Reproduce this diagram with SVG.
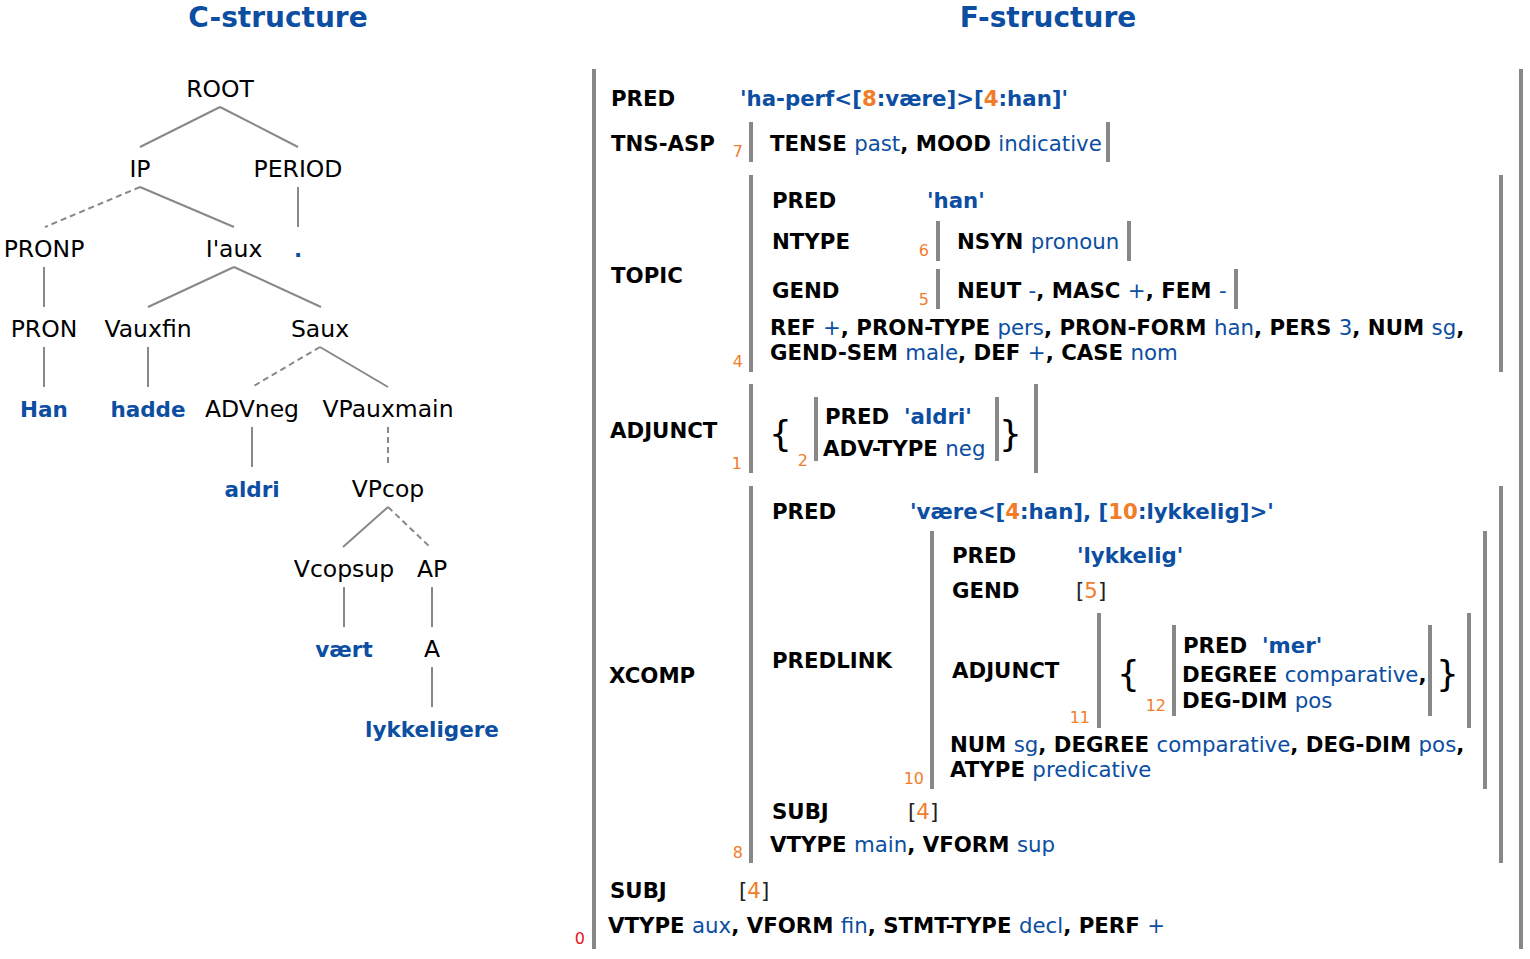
<svg xmlns="http://www.w3.org/2000/svg" width="1530" height="959" viewBox="0 0 1530 959">
<style>
text { font-family: "DejaVu Sans", Verdana, sans-serif; }
.title { font-size: 28px; font-weight: bold; fill: #0b4ea2; text-anchor: middle; }
.nt { font-size: 23.5px; fill: #000; text-anchor: middle; }
.lf { font-size: 21.5px; font-weight: bold; fill: #0b4ea2; text-anchor: middle; }
.f { font-size: 21.3px; font-weight: bold; fill: #000; }
.v { font-weight: normal; fill: #0b4ea2; }
.vb { fill: #0b4ea2; }
.br { font-weight: normal; fill: #222; }
.o { fill: #f07d2a; }
.no { font-weight: normal; fill: #f07d2a; }
.idx { font-size: 16px; fill: #f07d2a; text-anchor: end; }
.red { fill: #e8141b; }
.brace { font-size: 36px; font-weight: normal; fill: #000; }
.bar { stroke: #888; stroke-width: 4; }
.edge { stroke: #888; stroke-width: 2; fill: none; }
.dash { stroke-dasharray: 6 4; }
</style>

<text class="title" x="278" y="27">C-structure</text>
<text class="title" x="1048" y="27">F-structure</text>

<!-- C-structure connectors -->
<g id="tree-edges">
  <line class="edge" x1="220" y1="107" x2="140" y2="147"/>
  <line class="edge" x1="220" y1="107" x2="298" y2="147"/>
  <line class="edge dash" x1="140" y1="187" x2="45" y2="227"/>
  <line class="edge" x1="140" y1="187" x2="234" y2="227"/>
  <line class="edge" x1="298" y1="187" x2="298" y2="227"/>
  <line class="edge" x1="44" y1="267" x2="44" y2="307"/>
  <line class="edge" x1="234" y1="267" x2="148" y2="307"/>
  <line class="edge" x1="234" y1="267" x2="321" y2="307"/>
  <line class="edge" x1="44" y1="347" x2="44" y2="387"/>
  <line class="edge" x1="148" y1="347" x2="148" y2="387"/>
  <line class="edge dash" x1="320" y1="347" x2="252" y2="387"/>
  <line class="edge" x1="320" y1="347" x2="388" y2="387"/>
  <line class="edge" x1="252" y1="427" x2="252" y2="467"/>
  <line class="edge dash" x1="388" y1="427" x2="388" y2="467"/>
  <line class="edge" x1="388" y1="507" x2="343" y2="547"/>
  <line class="edge dash" x1="388" y1="507" x2="430" y2="547"/>
  <line class="edge" x1="344" y1="587" x2="344" y2="627"/>
  <line class="edge" x1="432" y1="587" x2="432" y2="627"/>
  <line class="edge" x1="432" y1="667" x2="432" y2="707"/>
</g>

<!-- C-structure nodes -->
<g id="n-root"><text class="nt" x="220" y="97">ROOT</text></g>
<g id="n-ip"><text class="nt" x="140" y="177">IP</text></g>
<g id="n-period"><text class="nt" x="298" y="177">PERIOD</text></g>
<g id="n-pronp"><text class="nt" x="44" y="257">PRONP</text></g>
<g id="n-iaux"><text class="nt" x="234" y="257">I'aux</text></g>
<g id="n-dot"><text class="lf" x="298" y="257">.</text></g>
<g id="n-pron"><text class="nt" x="44" y="337">PRON</text></g>
<g id="n-vauxfin"><text class="nt" x="148" y="337">Vauxfin</text></g>
<g id="n-saux"><text class="nt" x="320" y="337">Saux</text></g>
<g id="n-han"><text class="lf" x="44" y="417">Han</text></g>
<g id="n-hadde"><text class="lf" x="148" y="417">hadde</text></g>
<g id="n-advneg"><text class="nt" x="252" y="417">ADVneg</text></g>
<g id="n-vpauxmain"><text class="nt" x="388" y="417">VPauxmain</text></g>
<g id="n-aldri"><text class="lf" x="252" y="497">aldri</text></g>
<g id="n-vpcop"><text class="nt" x="388" y="497">VPcop</text></g>
<g id="n-vcopsup"><text class="nt" x="344" y="577">Vcopsup</text></g>
<g id="n-ap"><text class="nt" x="432" y="577">AP</text></g>
<g id="n-vaert"><text class="lf" x="344" y="657">vært</text></g>
<g id="n-a"><text class="nt" x="432" y="657">A</text></g>
<g id="n-lykkeligere"><text class="lf" x="432" y="737">lykkeligere</text></g>

<!-- F-structure -->
<g id="fs0">
  <line class="bar" x1="594" y1="69" x2="594" y2="949"/>
  <line class="bar" x1="1521" y1="69" x2="1521" y2="949"/>
  <text class="idx red" x="585" y="944">0</text>
  <text class="f" x="611" y="106">PRED</text>
  <text class="f vb" x="740" y="106">'ha-perf&lt;[<tspan class="o">8</tspan>:være]&gt;[<tspan class="o">4</tspan>:han]'</text>
  <text class="f" x="611" y="151">TNS-ASP</text>
  <text class="f" x="611" y="283">TOPIC</text>
  <text class="f" x="610" y="438">ADJUNCT</text>
  <text class="f" x="609" y="683">XCOMP</text>
  <text class="f" x="610" y="898">SUBJ</text>
  <text class="f" x="739" y="898"><tspan class="br">[</tspan><tspan class="no">4</tspan><tspan class="br">]</tspan></text>
  <text class="f" x="608" y="933">VTYPE <tspan class="v">aux</tspan>, VFORM <tspan class="v">fin</tspan>, STMT-TYPE <tspan class="v">decl</tspan>, PERF <tspan class="v">+</tspan></text>
</g>

<g id="fs7">
  <line class="bar" x1="751" y1="122" x2="751" y2="162"/>
  <line class="bar" x1="1108" y1="122" x2="1108" y2="162"/>
  <text class="idx" x="743" y="157">7</text>
  <text class="f" x="770" y="151">TENSE <tspan class="v">past</tspan>, MOOD <tspan class="v">indicative</tspan></text>
</g>

<g id="fs4">
  <line class="bar" x1="751" y1="175" x2="751" y2="372"/>
  <line class="bar" x1="1501" y1="175" x2="1501" y2="372"/>
  <text class="idx" x="743" y="367">4</text>
  <text class="f" x="772" y="208">PRED</text>
  <text class="f vb" x="927" y="208">'han'</text>
  <text class="f" x="772" y="249">NTYPE</text>
  <text class="f" x="772" y="298">GEND</text>
  <text class="f" x="770" y="335">REF <tspan class="v">+</tspan>, PRON-TYPE <tspan class="v">pers</tspan>, PRON-FORM <tspan class="v">han</tspan>, PERS <tspan class="v">3</tspan>, NUM <tspan class="v">sg</tspan>,</text>
  <text class="f" x="770" y="360">GEND-SEM <tspan class="v">male</tspan>, DEF <tspan class="v">+</tspan>, CASE <tspan class="v">nom</tspan></text>
</g>

<g id="fs6">
  <line class="bar" x1="938" y1="221" x2="938" y2="261"/>
  <line class="bar" x1="1129" y1="221" x2="1129" y2="261"/>
  <text class="idx" x="929" y="256">6</text>
  <text class="f" x="957" y="249">NSYN <tspan class="v">pronoun</tspan></text>
</g>

<g id="fs5">
  <line class="bar" x1="938" y1="269" x2="938" y2="309"/>
  <line class="bar" x1="1236" y1="269" x2="1236" y2="309"/>
  <text class="idx" x="929" y="305">5</text>
  <text class="f" x="957" y="298">NEUT <tspan class="v">-</tspan>, MASC <tspan class="v">+</tspan>, FEM <tspan class="v">-</tspan></text>
</g>

<g id="fs1">
  <line class="bar" x1="751" y1="384" x2="751" y2="473"/>
  <line class="bar" x1="1036" y1="384" x2="1036" y2="473"/>
  <text class="idx" x="742" y="469">1</text>
  <text class="brace" x="769" y="446">{</text>
  <text class="brace" x="999" y="446">}</text>
</g>

<g id="fs2">
  <line class="bar" x1="816" y1="397" x2="816" y2="461"/>
  <line class="bar" x1="997" y1="397" x2="997" y2="461"/>
  <text class="idx" x="808" y="466">2</text>
  <text class="f" x="825" y="424">PRED</text>
  <text class="f vb" x="904" y="424">'aldri'</text>
  <text class="f" x="823" y="456">ADV-TYPE <tspan class="v">neg</tspan></text>
</g>

<g id="fs8">
  <line class="bar" x1="751" y1="486" x2="751" y2="863"/>
  <line class="bar" x1="1501" y1="486" x2="1501" y2="863"/>
  <text class="idx" x="743" y="858">8</text>
  <text class="f" x="772" y="519">PRED</text>
  <text class="f vb" x="910" y="519">'være&lt;[<tspan class="o">4</tspan>:han], [<tspan class="o">10</tspan>:lykkelig]&gt;'</text>
  <text class="f" x="772" y="668">PREDLINK</text>
  <text class="f" x="772" y="819">SUBJ</text>
  <text class="f" x="908" y="819"><tspan class="br">[</tspan><tspan class="no">4</tspan><tspan class="br">]</tspan></text>
  <text class="f" x="770" y="852">VTYPE <tspan class="v">main</tspan>, VFORM <tspan class="v">sup</tspan></text>
</g>

<g id="fs10">
  <line class="bar" x1="932" y1="531" x2="932" y2="789"/>
  <line class="bar" x1="1485" y1="531" x2="1485" y2="789"/>
  <text class="idx" x="924" y="784">10</text>
  <text class="f" x="952" y="563">PRED</text>
  <text class="f vb" x="1077" y="563">'lykkelig'</text>
  <text class="f" x="952" y="598">GEND</text>
  <text class="f" x="1076" y="598"><tspan class="br">[</tspan><tspan class="no">5</tspan><tspan class="br">]</tspan></text>
  <text class="f" x="952" y="678">ADJUNCT</text>
  <text class="f" x="950" y="752">NUM <tspan class="v">sg</tspan>, DEGREE <tspan class="v">comparative</tspan>, DEG-DIM <tspan class="v">pos</tspan>,</text>
  <text class="f" x="950" y="777">ATYPE <tspan class="v">predicative</tspan></text>
</g>

<g id="fs11">
  <line class="bar" x1="1099" y1="613" x2="1099" y2="728"/>
  <line class="bar" x1="1469" y1="613" x2="1469" y2="728"/>
  <text class="idx" x="1090" y="723">11</text>
  <text class="brace" x="1117" y="686">{</text>
  <text class="brace" x="1436" y="686">}</text>
</g>

<g id="fs12">
  <line class="bar" x1="1174" y1="625" x2="1174" y2="716"/>
  <line class="bar" x1="1430" y1="625" x2="1430" y2="716"/>
  <text class="idx" x="1166" y="711">12</text>
  <text class="f" x="1183" y="653">PRED</text>
  <text class="f vb" x="1262" y="653">'mer'</text>
  <text class="f" x="1182" y="682">DEGREE <tspan class="v">comparative</tspan>,</text>
  <text class="f" x="1182" y="708">DEG-DIM <tspan class="v">pos</tspan></text>
</g>
</svg>
